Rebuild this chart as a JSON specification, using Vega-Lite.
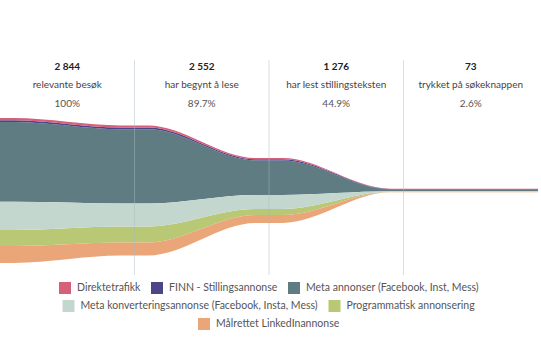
{
  "$schema": "https://vega.github.io/schema/vega-lite/v6.json",
  "padding": {"left": 0, "top": 59, "right": 0, "bottom": 0},
  "background": "white",
  "spacing": 0,
  "bounds": "flush",
  "config": {
    "view": {"stroke": null},
    "font": "Lato",
    "locale": {"number": {"decimal": ".", "thousands": " ", "grouping": [3], "currency": ["", ""]}},
    "legend": {
      "orient": "bottom",
      "direction": "horizontal",
      "symbolType": "square",
      "symbolSize": 144,
      "symbolStrokeWidth": 0,
      "symbolOpacity": 1,
      "labelFont": "Lato",
      "labelFontSize": 10.5,
      "labelColor": "#555555",
      "labelLimit": 320,
      "labelOffset": 6,
      "columnPadding": 10,
      "offset": 7,
      "layout": {"bottom": {"anchor": "middle", "direction": "vertical", "center": true, "margin": 6, "offset": 7}}
    }
  },
  "datasets": {
    "stages": [
      {"i": 0, "count": 2844, "label": "relevante besøk", "pct": 1},
      {"i": 1, "count": 2552, "label": "har begynt å lese", "pct": 0.897},
      {"i": 2, "count": 1276, "label": "har lest stillingsteksten", "pct": 0.449},
      {"i": 3, "count": 73, "label": "trykket på søkeknappen", "pct": 0.026}
    ],
    "flow": [
      {"pos": 0, "Målrettet LinkedInannonse": 333, "Programmatisk annonsering": 314, "Meta konverteringsannonse (Facebook, Insta, Mess)": 552, "Meta annonser (Facebook, Inst, Mess)": 1567, "FINN - Stillingsannonse": 36, "Direktetrafikk": 42},
      {"pos": 0.1, "Målrettet LinkedInannonse": 333, "Programmatisk annonsering": 314, "Meta konverteringsannonse (Facebook, Insta, Mess)": 552, "Meta annonser (Facebook, Inst, Mess)": 1567, "FINN - Stillingsannonse": 36, "Direktetrafikk": 42},
      {"pos": 0.9, "Målrettet LinkedInannonse": 255, "Programmatisk annonsering": 314, "Meta konverteringsannonse (Facebook, Insta, Mess)": 450, "Meta annonser (Facebook, Inst, Mess)": 1459, "FINN - Stillingsannonse": 34, "Direktetrafikk": 40},
      {"pos": 1.1, "Målrettet LinkedInannonse": 255, "Programmatisk annonsering": 314, "Meta konverteringsannonse (Facebook, Insta, Mess)": 450, "Meta annonser (Facebook, Inst, Mess)": 1459, "FINN - Stillingsannonse": 34, "Direktetrafikk": 40},
      {"pos": 1.9, "Målrettet LinkedInannonse": 156, "Programmatisk annonsering": 118, "Meta konverteringsannonse (Facebook, Insta, Mess)": 275, "Meta annonser (Facebook, Inst, Mess)": 680, "FINN - Stillingsannonse": 22, "Direktetrafikk": 25},
      {"pos": 2.1, "Målrettet LinkedInannonse": 156, "Programmatisk annonsering": 118, "Meta konverteringsannonse (Facebook, Insta, Mess)": 275, "Meta annonser (Facebook, Inst, Mess)": 680, "FINN - Stillingsannonse": 22, "Direktetrafikk": 25},
      {"pos": 2.9, "Målrettet LinkedInannonse": 6, "Programmatisk annonsering": 6, "Meta konverteringsannonse (Facebook, Insta, Mess)": 8, "Meta annonser (Facebook, Inst, Mess)": 42, "FINN - Stillingsannonse": 6, "Direktetrafikk": 5},
      {"pos": 4, "Målrettet LinkedInannonse": 6, "Programmatisk annonsering": 6, "Meta konverteringsannonse (Facebook, Insta, Mess)": 8, "Meta annonser (Facebook, Inst, Mess)": 42, "FINN - Stillingsannonse": 6, "Direktetrafikk": 5}
    ]
  },
  "vconcat": [
    {
      "width": 538,
      "height": 46,
      "data": {"name": "stages"},
      "layer": [
        {
          "transform": [{"filter": "datum.i > 0"}],
          "mark": {"type": "rule", "color": "#aab8bf", "opacity": 0.45, "strokeWidth": 1},
          "encoding": {
            "x": {"field": "i", "type": "ordinal", "bandPosition": 0, "scale": {"type": "band", "paddingInner": 0, "paddingOuter": 0, "domain": [0, 1, 2, 3]}, "axis": null}
          }
        },
        {
          "mark": {"type": "text", "fontWeight": "bold", "fontSize": 10, "color": "#222222"},
          "encoding": {
            "x": {"field": "i", "type": "ordinal", "axis": null},
            "y": {"datum": "count", "type": "ordinal", "scale": {"type": "point", "domain": ["count", "label", "pct"], "padding": 0.25, "align": 0.75}, "axis": null},
            "text": {"field": "count", "type": "quantitative", "format": ","}
          }
        },
        {
          "mark": {"type": "text", "fontSize": 10, "color": "#444444"},
          "encoding": {
            "x": {"field": "i", "type": "ordinal", "axis": null},
            "y": {"datum": "label", "type": "ordinal", "axis": null},
            "text": {"field": "label", "type": "nominal"}
          }
        },
        {
          "mark": {"type": "text", "fontSize": 10, "color": "#555555"},
          "encoding": {
            "x": {"field": "i", "type": "ordinal", "axis": null},
            "y": {"datum": "pct", "type": "ordinal", "axis": null},
            "text": {"field": "pct", "type": "quantitative", "format": ".1~%"}
          }
        }
      ]
    },
    {
      "width": 538,
      "height": 169,
      "data": {"name": "flow"},
      "transform": [
        {"fold": ["Målrettet LinkedInannonse", "Programmatisk annonsering", "Meta konverteringsannonse (Facebook, Insta, Mess)", "Meta annonser (Facebook, Inst, Mess)", "FINN - Stillingsannonse", "Direktetrafikk"], "as": ["series", "value"]},
        {"stack": "value", "groupby": ["pos"], "offset": "center", "as": ["y0", "y1"]}
      ],
      "layer": [
        {
          "transform": [{"filter": {"field": "series", "oneOf": ["Direktetrafikk", "FINN - Stillingsannonse", "Meta annonser (Facebook, Inst, Mess)"]}}],
          "mark": {"type": "area", "interpolate": "monotone"},
          "encoding": {
            "x": {"field": "pos", "type": "quantitative", "scale": {"domain": [0, 4], "nice": false, "zero": false}, "axis": null},
            "y": {"field": "y0", "type": "quantitative", "scale": {"domain": [-236, 3080], "nice": false, "zero": false}, "axis": null},
            "y2": {"field": "y1"},
            "detail": {"field": "series"},
            "color": {"field": "series", "type": "nominal", "scale": {"domain": ["Direktetrafikk", "FINN - Stillingsannonse", "Meta annonser (Facebook, Inst, Mess)"], "range": ["#d65f7a", "#4c4589", "#5e7c81"]}, "legend": {"title": null}}
          }
        },
        {
          "transform": [{"filter": {"field": "series", "oneOf": ["Meta konverteringsannonse (Facebook, Insta, Mess)", "Programmatisk annonsering"]}}],
          "mark": {"type": "area", "interpolate": "monotone"},
          "encoding": {
            "x": {"field": "pos", "type": "quantitative"},
            "y": {"field": "y0", "type": "quantitative"},
            "y2": {"field": "y1"},
            "detail": {"field": "series"},
            "color": {"field": "series", "type": "nominal", "scale": {"domain": ["Meta konverteringsannonse (Facebook, Insta, Mess)", "Programmatisk annonsering"], "range": ["#c4d7cf", "#b8c874"]}, "legend": {"title": null}}
          }
        },
        {
          "transform": [{"filter": {"field": "series", "oneOf": ["Målrettet LinkedInannonse"]}}],
          "mark": {"type": "area", "interpolate": "monotone"},
          "encoding": {
            "x": {"field": "pos", "type": "quantitative"},
            "y": {"field": "y0", "type": "quantitative"},
            "y2": {"field": "y1"},
            "detail": {"field": "series"},
            "color": {"field": "series", "type": "nominal", "scale": {"domain": ["Målrettet LinkedInannonse"], "range": ["#eaa679"]}, "legend": {"title": null}}
          }
        },
        {
          "data": {"name": "stages"},
          "transform": [{"filter": "datum.i > 0"}],
          "mark": {"type": "rule", "color": "#aab8bf", "opacity": 0.45, "strokeWidth": 1},
          "encoding": {
            "x": {"field": "i", "type": "quantitative"}
          }
        }
      ],
      "resolve": {"scale": {"color": "independent"}, "legend": {"color": "independent"}}
    }
  ]
}
